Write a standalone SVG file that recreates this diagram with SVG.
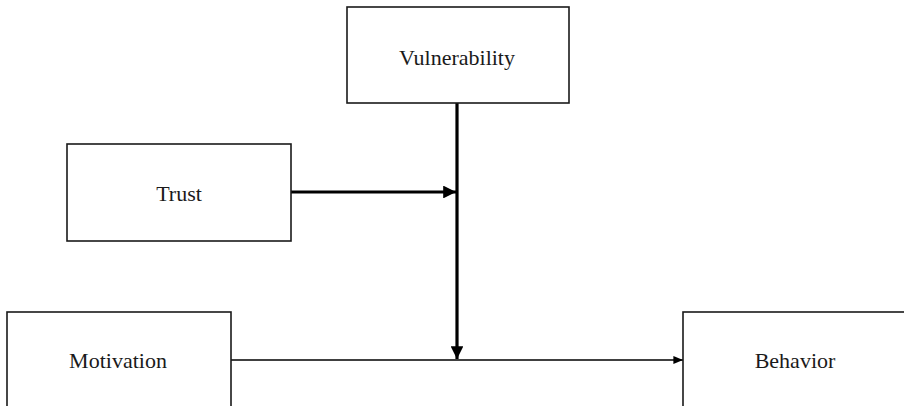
<svg xmlns="http://www.w3.org/2000/svg" width="904" height="406" viewBox="0 0 904 406">
<style>
.box{fill:#fff;stroke:#1a1a1a;stroke-width:1.6}
.lbl{font-family:"Liberation Serif","Times New Roman",serif;font-size:22px;fill:#1a1a1a;text-anchor:middle}
.thick{stroke:#000;stroke-width:3.2;fill:none}
.thin{stroke:#000;stroke-width:1.6;fill:none}
</style>
<defs>
<marker id="ah" markerWidth="4" markerHeight="4" refX="4" refY="2" orient="auto" markerUnits="strokeWidth"><path d="M0,0 L4,2 L0,4 Z" fill="#000"/></marker>
<marker id="ahs" markerWidth="6" markerHeight="5" refX="6" refY="2.5" orient="auto" markerUnits="strokeWidth"><path d="M0,0 L6,2.5 L0,5 Z" fill="#000"/></marker>
</defs>
<g id="connectors">
<line class="thin" x1="231" y1="360" x2="683" y2="360" marker-end="url(#ahs)"/>
<line class="thick" x1="291" y1="192" x2="456" y2="192" marker-end="url(#ah)"/>
<line class="thick" x1="457" y1="103" x2="457" y2="359" marker-end="url(#ah)"/>
</g>
<g id="vulnerability">
<rect class="box" x="347" y="7" width="222" height="96"/>
<text class="lbl" x="457" y="65">Vulnerability</text>
</g>
<g id="trust">
<rect class="box" x="67" y="144" width="224" height="97"/>
<text class="lbl" x="179" y="201">Trust</text>
</g>
<g id="motivation">
<rect class="box" x="7" y="312" width="224" height="110"/>
<text class="lbl" x="118" y="368">Motivation</text>
</g>
<g id="behavior">
<rect class="box" x="683" y="312" width="240" height="110"/>
<text class="lbl" x="795" y="368">Behavior</text>
</g>
</svg>
